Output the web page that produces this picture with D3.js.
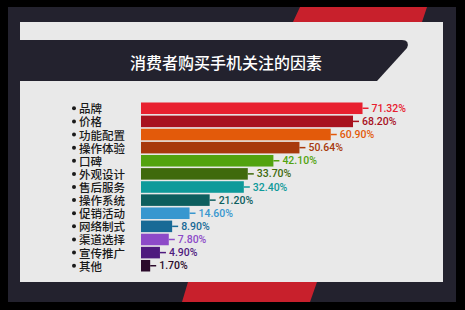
<!DOCTYPE html>
<html>
<head>
<meta charset="utf-8">
<script src="https://cdn.jsdelivr.net/npm/d3@7"></script>
<style>
  html, body { margin: 0; padding: 0; background: #000; }
  svg { display: block; }
</style>
</head>
<body>
<svg id="chart"></svg>
<script>
const title = "消费者购买手机关注的因素"
const factors = ["品牌", "价格", "功能配置", "操作体验", "口碑", "外观设计", "售后服务",
    "操作系统", "促销活动", "网络制式", "渠道选择", "宣传推广", "其他"]
const shares = [71.32, 68.20, 60.90, 50.64, 42.10, 33.70, 32.40, 21.20, 14.60, 8.90, 7.80, 4.90, 1.70]
const palette = ["#e8202f", "#a8121f", "#e35a0a", "#a8390c", "#52a30f", "#3f6a0c", "#0e9a9a",
    "#0d5e5e", "#3897cf", "#186a96", "#8d4ac8", "#4e1a7e", "#2a0a2a"]

const w = 465, h = 310
const svg = d3.select("#chart")
    .attr("width", w)
    .attr("height", h)

// frame
svg.append("rect").attr("width", w).attr("height", h).attr("fill", "#000")
svg.append("rect")
    .attr("x", 8).attr("y", 7)
    .attr("width", 448).attr("height", 295)
    .attr("fill", "#23222e")

// red stripes top and bottom
svg.append("path")
    .attr("d", "M300,7 L427,7 L422,22 L293,22 Z")
    .attr("fill", "#c8202c")
svg.append("path")
    .attr("d", "M188,282 L317,282 L310,302 L182,302 Z")
    .attr("fill", "#c8202c")

svg.append("rect")
    .attr("x", 20).attr("y", 22)
    .attr("width", 423).attr("height", 260)
    .attr("fill", "#e9e9e9")

// title banner
svg.append("path")
    .attr("d", "M20,40 L402,40 Q410,40 407,48 L377,81 L20,81 Z")
    .attr("fill", "#23222e")
svg.append("text")
    .attr("x", 226).attr("y", 62)
    .attr("text-anchor", "middle")
    .attr("dominant-baseline", "central")
    .attr("fill", "#fff")
    .style("font-family", "'Noto Sans CJK SC', sans-serif")
    .style("font-size", "16px")
    .style("font-weight", 500)
    .text(title)

// scales
const x0 = 141
const xScale = d3.scaleLinear()
    .domain([0, 100])
    .range([x0 + 4, x0 + 4 + 305])

const yScale = d3.scaleBand()
    .domain(factors)
    .range([102.5, 271.5])
    .paddingInner(0.12)

const data = factors.map((f, i) => ({ name: f, value: shares[i], color: palette[i] }))

const rows = svg.append("g")
    .selectAll("g")
    .data(data)
    .join("g")

rows.append("rect")
    .attr("x", x0)
    .attr("y", d => yScale(d.name))
    .attr("width", d => xScale(d.value) - x0)
    .attr("height", yScale.bandwidth())
    .attr("fill", d => d.color)

const mid = d => yScale(d.name) + yScale.bandwidth() / 2

rows.append("line")
    .attr("x1", d => xScale(d.value))
    .attr("x2", d => xScale(d.value) + 6)
    .attr("y1", mid)
    .attr("y2", mid)
    .attr("stroke", d => d.color)
    .attr("stroke-width", 1.5)

rows.append("text")
    .attr("x", d => xScale(d.value) + 9)
    .attr("y", mid)
    .attr("dominant-baseline", "central")
    .attr("fill", d => d.color)
    .style("font-family", "Roboto, 'Liberation Sans', sans-serif")
    .style("font-size", "10.5px")
    .style("font-weight", 500)
    .text(d => d.value.toFixed(2) + "%")

// category labels with bullets
rows.append("circle")
    .attr("cx", 74)
    .attr("cy", mid)
    .attr("r", 2)
    .attr("fill", "#1a1a1a")

rows.append("text")
    .attr("x", 79)
    .attr("y", mid)
    .attr("dominant-baseline", "central")
    .attr("fill", "#1a1a1a")
    .style("font-family", "'Noto Sans CJK SC', sans-serif")
    .style("font-size", "11.5px")
    .style("font-weight", 500)
    .text(d => d.name)
</script>
</body>
</html>
